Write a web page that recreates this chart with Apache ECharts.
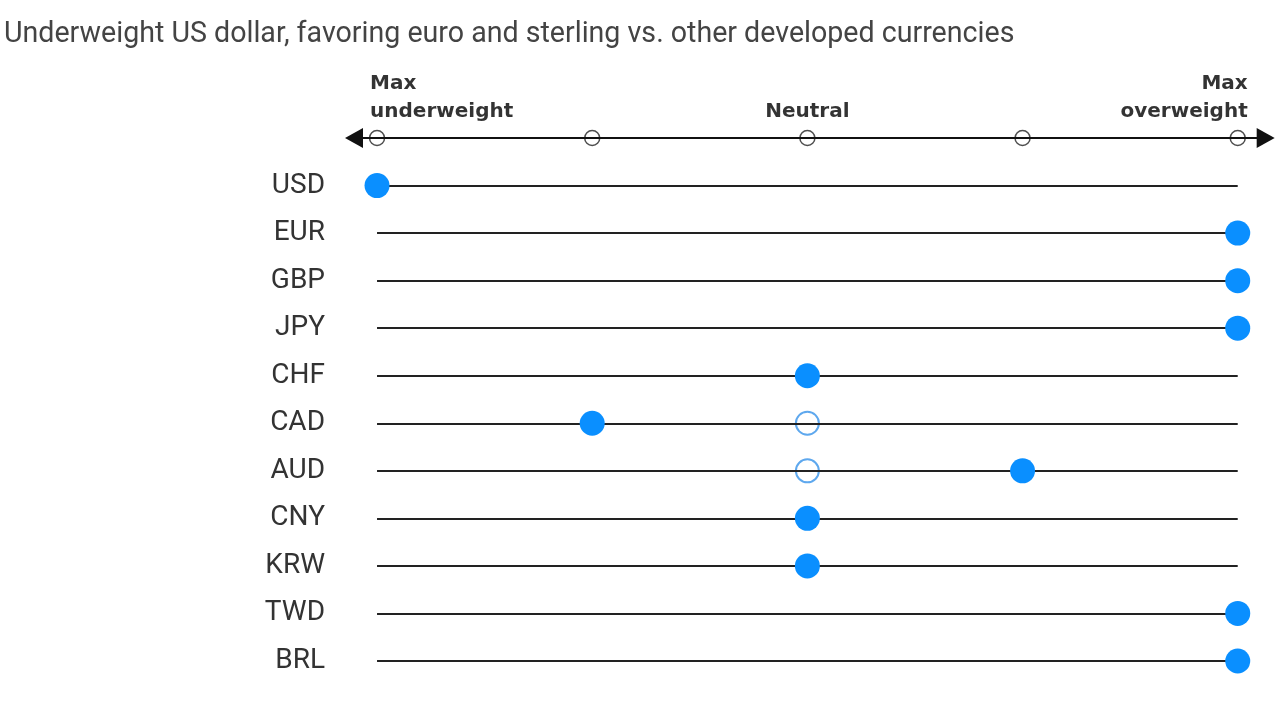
<!DOCTYPE html>
<html><head><meta charset="utf-8">
<script src="https://cdn.jsdelivr.net/npm/echarts@6/dist/echarts.min.js"></script>
<style>html,body{margin:0;padding:0;background:#fff}#c{width:1280px;height:720px}</style>
</head><body><div id="c"></div>
<script>
const title = 'Underweight US dollar, favoring euro and sterling vs. other developed currencies';
const currencies = ['USD','EUR','GBP','JPY','CHF','CAD','AUD','CNY','KRW','TWD','BRL'];
const current = [-2, 2, 2, 2, 0, -1, 1, 0, 0, 2, 2];
const previous = [null, null, null, null, null, 0, 0, null, null, null, null];
const scaleTicks = [-2, -1, 0, 1, 2];
const scaleLabels = ['Max\nunderweight', '', 'Neutral', '', 'Max\noverweight'];
const arrowEnds = [-2.107, 2.13];
const HEADER = 'header';

const cats = [HEADER].concat(currencies);
const blue = '#0a8fff';

const headerData = scaleTicks.map((v, i) => {
  let align = 'center';
  let offset = [0, 0];
  if (i === 0) { align = 'left'; offset = [-7, 0]; }
  if (i === scaleTicks.length - 1) { align = 'right'; offset = [10, 0]; }
  return {
    value: [v, HEADER],
    label: { show: scaleLabels[i] !== '', formatter: scaleLabels[i], align: align, offset: offset }
  };
});

const rowLines = currencies.map(c => [{ coord: [scaleTicks[0], c] }, { coord: [scaleTicks[scaleTicks.length - 1], c] }]);

const chart = echarts.init(document.getElementById('c'));
chart.setOption({
  animation: false,
  title: {
    text: title, left: -1, top: 15,
    textStyle: { fontFamily: 'Roboto', fontWeight: 'normal', fontSize: 28.6, color: '#444' }
  },
  grid: { left: 334, right: 10, top: 138, bottom: 59, containLabel: false },
  xAxis: { type: 'value', min: -2.2, max: 2.15, show: false },
  yAxis: {
    type: 'category', data: cats, inverse: true, boundaryGap: false,
    axisLine: { show: false }, axisTick: { show: false }, splitLine: { show: false },
    axisLabel: {
      margin: 9, fontFamily: 'Roboto', fontSize: 28, color: '#333',
      formatter: v => v === HEADER ? '' : v
    }
  },
  series: [
    {
      type: 'scatter', z: 1, data: [], silent: true,
      markLine: {
        silent: true, symbol: 'none', animation: false,
        label: { show: false },
        lineStyle: { color: '#222', width: 2, type: 'solid' },
        data: rowLines
      }
    },
    {
      type: 'scatter', z: 2, data: [], silent: true,
      markLine: {
        silent: true, symbol: ['triangle', 'triangle'], symbolSize: [20, 18],
        animation: false, label: { show: false },
        lineStyle: { color: '#111', width: 2, type: 'solid' },
        itemStyle: { color: '#111' },
        data: [[{ coord: [arrowEnds[0], HEADER] }, { coord: [arrowEnds[1], HEADER] }]]
      }
    },
    {
      type: 'scatter', z: 3, symbol: 'circle', symbolSize: 15,
      itemStyle: { color: '#fff', borderColor: '#222', borderWidth: 1.5 },
      label: {
        position: 'top', distance: 4, fontFamily: 'DejaVu Sans', fontWeight: 'bold',
        fontSize: 20, lineHeight: 28, color: '#000'
      },
      data: headerData
    },
    {
      type: 'scatter', z: 4, symbol: 'circle', symbolSize: 23,
      itemStyle: { color: '#fff', borderColor: '#5ea8ee', borderWidth: 2, opacity: 1 },
      data: previous.map((v, i) => v === null ? null : [v, currencies[i]]).filter(d => d)
    },
    {
      type: 'scatter', z: 5, symbol: 'circle', symbolSize: 25,
      itemStyle: { color: blue, opacity: 1 },
      data: current.map((v, i) => [v, currencies[i]])
    }
  ]
});
</script></body></html>
